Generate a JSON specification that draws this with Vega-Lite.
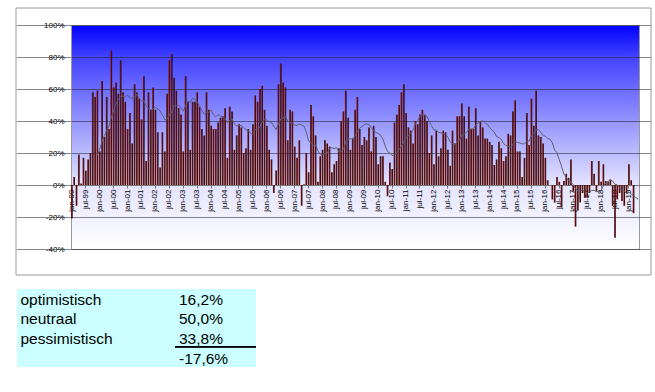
{
  "$schema": "https://vega.github.io/schema/vega-lite/v6.json",
  "background": "white",
  "padding": {"left": 15, "top": 7, "right": 3, "bottom": 3},
  "spacing": 13,
  "datasets": {
    "maand": [
      {"m":"jan-99","v":-21},{"m":"feb-99","v":5},{"m":"mrt-99","v":-13},{"m":"apr-99","v":19},{"m":"mei-99","v":1},{"m":"jun-99","v":17},{"m":"jul-99","v":9},{"m":"aug-99","v":16},{"m":"sep-99","v":20},{"m":"okt-99","v":58},{"m":"nov-99","v":55},{"m":"dec-99","v":59},
      {"m":"jan-00","v":21},{"m":"feb-00","v":65},{"m":"mrt-00","v":30},{"m":"apr-00","v":55},{"m":"mei-00","v":35},{"m":"jun-00","v":84},{"m":"jul-00","v":61},{"m":"aug-00","v":64},{"m":"sep-00","v":57},{"m":"okt-00","v":78},{"m":"nov-00","v":58},{"m":"dec-00","v":52},
      {"m":"jan-01","v":35},{"m":"feb-01","v":45},{"m":"mrt-01","v":26},{"m":"apr-01","v":63},{"m":"mei-01","v":58},{"m":"jun-01","v":54},{"m":"jul-01","v":41},{"m":"aug-01","v":68},{"m":"sep-01","v":15},{"m":"okt-01","v":58},{"m":"nov-01","v":47},{"m":"dec-01","v":61},
      {"m":"jan-02","v":47},{"m":"feb-02","v":33},{"m":"mrt-02","v":11},{"m":"apr-02","v":33},{"m":"mei-02","v":21},{"m":"jun-02","v":57},{"m":"jul-02","v":78},{"m":"aug-02","v":82},{"m":"sep-02","v":67},{"m":"okt-02","v":59},{"m":"nov-02","v":48},{"m":"dec-02","v":44},
      {"m":"jan-03","v":21},{"m":"feb-03","v":68},{"m":"mrt-03","v":52},{"m":"apr-03","v":22},{"m":"mei-03","v":52},{"m":"jun-03","v":52},{"m":"jul-03","v":58},{"m":"aug-03","v":49},{"m":"sep-03","v":35},{"m":"okt-03","v":31},{"m":"nov-03","v":58},{"m":"dec-03","v":47},
      {"m":"jan-04","v":37},{"m":"feb-04","v":35},{"m":"mrt-04","v":35},{"m":"apr-04","v":39},{"m":"mei-04","v":42},{"m":"jun-04","v":43},{"m":"jul-04","v":48},{"m":"aug-04","v":17},{"m":"sep-04","v":49},{"m":"okt-04","v":46},{"m":"nov-04","v":22},{"m":"dec-04","v":31},
      {"m":"jan-05","v":38},{"m":"feb-05","v":36},{"m":"mrt-05","v":20},{"m":"apr-05","v":23},{"m":"mei-05","v":35},{"m":"jun-05","v":22},{"m":"jul-05","v":38},{"m":"aug-05","v":56},{"m":"sep-05","v":52},{"m":"okt-05","v":60},{"m":"nov-05","v":62},{"m":"dec-05","v":47},
      {"m":"jan-06","v":37},{"m":"feb-06","v":22},{"m":"mrt-06","v":16},{"m":"apr-06","v":-5},{"m":"mei-06","v":9},{"m":"jun-06","v":63},{"m":"jul-06","v":76},{"m":"aug-06","v":64},{"m":"sep-06","v":61},{"m":"okt-06","v":28},{"m":"nov-06","v":47},{"m":"dec-06","v":46},
      {"m":"jan-07","v":24},{"m":"feb-07","v":17},{"m":"mrt-07","v":28},{"m":"apr-07","v":-13},{"m":"mei-07","v":0.5},{"m":"jun-07","v":20},{"m":"jul-07","v":8},{"m":"aug-07","v":50},{"m":"sep-07","v":43},{"m":"okt-07","v":31},{"m":"nov-07","v":2},{"m":"dec-07","v":18},
      {"m":"jan-08","v":22},{"m":"feb-08","v":28},{"m":"mrt-08","v":26},{"m":"apr-08","v":24},{"m":"mei-08","v":8},{"m":"jun-08","v":13},{"m":"jul-08","v":15},{"m":"aug-08","v":23},{"m":"sep-08","v":40},{"m":"okt-08","v":46},{"m":"nov-08","v":59},{"m":"dec-08","v":42},
      {"m":"jan-09","v":22},{"m":"feb-09","v":29},{"m":"mrt-09","v":47},{"m":"apr-09","v":55},{"m":"mei-09","v":35},{"m":"jun-09","v":25},{"m":"jul-09","v":30},{"m":"aug-09","v":28},{"m":"sep-09","v":36},{"m":"okt-09","v":21},{"m":"nov-09","v":37},{"m":"dec-09","v":30},
      {"m":"jan-10","v":13},{"m":"feb-10","v":18},{"m":"mrt-10","v":18},{"m":"apr-10","v":2},{"m":"mei-10","v":-7},{"m":"jun-10","v":14},{"m":"jul-10","v":10},{"m":"aug-10","v":39},{"m":"sep-10","v":44},{"m":"okt-10","v":50},{"m":"nov-10","v":58},{"m":"dec-10","v":63},
      {"m":"jan-11","v":45},{"m":"feb-11","v":36},{"m":"mrt-11","v":34},{"m":"apr-11","v":26},{"m":"mei-11","v":40},{"m":"jun-11","v":38},{"m":"jul-11","v":44},{"m":"aug-11","v":47},{"m":"sep-11","v":44},{"m":"okt-11","v":40},{"m":"nov-11","v":20},{"m":"dec-11","v":31},
      {"m":"jan-12","v":13},{"m":"feb-12","v":34},{"m":"mrt-12","v":18},{"m":"apr-12","v":23},{"m":"mei-12","v":34},{"m":"jun-12","v":33},{"m":"jul-12","v":22},{"m":"aug-12","v":12},{"m":"sep-12","v":34},{"m":"okt-12","v":26},{"m":"nov-12","v":43},{"m":"dec-12","v":43},
      {"m":"jan-13","v":51},{"m":"feb-13","v":43},{"m":"mrt-13","v":29},{"m":"apr-13","v":49},{"m":"mei-13","v":35},{"m":"jun-13","v":35},{"m":"jul-13","v":48},{"m":"aug-13","v":31},{"m":"sep-13","v":40},{"m":"okt-13","v":36},{"m":"nov-13","v":29},{"m":"dec-13","v":29},
      {"m":"jan-14","v":27},{"m":"feb-14","v":25},{"m":"mrt-14","v":12.5},{"m":"apr-14","v":16},{"m":"mei-14","v":27},{"m":"jun-14","v":23},{"m":"jul-14","v":15},{"m":"aug-14","v":18},{"m":"sep-14","v":32},{"m":"okt-14","v":31},{"m":"nov-14","v":46},{"m":"dec-14","v":53},
      {"m":"jan-15","v":21},{"m":"feb-15","v":21},{"m":"mrt-15","v":5},{"m":"apr-15","v":17},{"m":"mei-15","v":45},{"m":"jun-15","v":25},{"m":"jul-15","v":54},{"m":"aug-15","v":37},{"m":"sep-15","v":59},{"m":"okt-15","v":31},{"m":"nov-15","v":30},{"m":"dec-15","v":26},
      {"m":"jan-16","v":17},{"m":"feb-16","v":3},{"m":"mrt-16","v":0},{"m":"apr-16","v":-9},{"m":"mei-16","v":-11},{"m":"jun-16","v":5},{"m":"jul-16","v":2},{"m":"aug-16","v":-14},{"m":"sep-16","v":2.5},{"m":"okt-16","v":7},{"m":"nov-16","v":4.5},{"m":"dec-16","v":16},
      {"m":"jan-17","v":-4},{"m":"feb-17","v":-26},{"m":"mrt-17","v":-16},{"m":"apr-17","v":-11},{"m":"mei-17","v":-5},{"m":"jun-17","v":-8},{"m":"jul-17","v":-8},{"m":"aug-17","v":-5},{"m":"sep-17","v":15},{"m":"okt-17","v":7},{"m":"nov-17","v":-4},{"m":"dec-17","v":15},
      {"m":"jan-18","v":2},{"m":"feb-18","v":13},{"m":"mrt-18","v":2.5},{"m":"apr-18","v":2},{"m":"mei-18","v":3.5},{"m":"jun-18","v":-13},{"m":"jul-18","v":-33},{"m":"aug-18","v":-9},{"m":"sep-18","v":-5},{"m":"okt-18","v":-10},{"m":"nov-18","v":-13},{"m":"dec-18","v":-5},
      {"m":"jan-19","v":13},{"m":"feb-19","v":3},{"m":"mrt-19","v":-17.6},{"m":"apr-19","v":null},{"m":"mei-19","v":null}
    ],
    "tabel": [
      {"naam":"optimistisch","p":0.162},
      {"naam":"neutraal","p":0.5},
      {"naam":"pessimistisch","p":0.338},
      {"naam":"","p":-0.176}
    ]
  },
  "vconcat": [
    {
      "width": 568,
      "height": 224,
      "view": {
        "stroke": "#999999",
        "strokeWidth": 1,
        "fill": {
          "gradient": "linear", "x1": 0, "y1": 0, "x2": 0, "y2": 1,
          "stops": [
            {"offset": 0, "color": "#0000ff"},
            {"offset": 0.14, "color": "#4242ff"},
            {"offset": 0.43, "color": "#9595ff"},
            {"offset": 0.71, "color": "#e4e4ff"},
            {"offset": 1, "color": "#ffffff"}
          ]
        }
      },
      "resolve": {"scale": {"x": "independent"}},
      "layer": [
        {
          "data": {"values": [{}]},
          "mark": {"type": "rect", "fillOpacity": 0, "stroke": "#9a9a9a", "strokeWidth": 1},
          "encoding": {
            "x": {"datum": 0, "type": "quantitative", "scale": {"domain": [0, 1], "range": [-55, 580]}, "axis": null},
            "x2": {"datum": 1},
            "y": {"datum": 110.6, "type": "quantitative", "scale": {"domain": [-40, 100]}, "title": null, "axis": {"values": [-40, -20, 0, 20, 40, 60, 80, 100], "labelExpr": "datum.value + '%'"}},
            "y2": {"datum": -56.25}
          }
        },
        {
          "data": {"name": "maand"},
          "encoding": {
            "x": {
              "field": "m", "type": "ordinal", "sort": null, "title": null,
              "scale": {"paddingInner": 0.28, "paddingOuter": 0},
              "axis": {
                "values": ["jan-99","jul-99","jan-00","jul-00","jan-01","jul-01","jan-02","jul-02","jan-03","jul-03","jan-04","jul-04","jan-05","jul-05","jan-06","jul-06","jan-07","jul-07","jan-08","jul-08","jan-09","jul-09","jan-10","jul-10","jan-11","jul-11","jan-12","jul-12","jan-13","jul-13","jan-14","jul-14","jan-15","jul-15","jan-16","jul-16","jan-17","jul-17","jan-18","jul-18","jan-19"]
              }
            }
          },
          "layer": [
            {
              "mark": {
                "type": "bar",
                "fill": {
                  "gradient": "linear", "x1": 0, "y1": 0, "x2": 1, "y2": 0,
                  "stops": [
                    {"offset": 0, "color": "#7e1616"},
                    {"offset": 0.6, "color": "#5a0a0a"},
                    {"offset": 1, "color": "#000000"}
                  ]
                }
              },
              "encoding": {
                "y": {
                  "field": "v", "type": "quantitative", "title": null,
                  "scale": {"domain": [-40, 100]},
                  "axis": {"values": [-40, -20, 0, 20, 40, 60, 80, 100], "labelExpr": "datum.value + '%'"}
                }
              }
            },
            {
              "transform": [
                {"window": [{"op": "mean", "field": "v", "as": "ma"}, {"op": "row_number", "as": "nr"}], "frame": [-11, 0]},
                {"filter": "datum.nr >= 12"}
              ],
              "mark": {"type": "line", "color": "#5e5e6e", "strokeWidth": 1},
              "encoding": {
                "y": {
                  "field": "ma", "type": "quantitative", "title": null,
                  "scale": {"domain": [-40, 100]},
                  "axis": {"values": [-40, -20, 0, 20, 40, 60, 80, 100], "labelExpr": "datum.value + '%'"}
                }
              }
            }
          ]
        }
      ]
    },
    {
      "width": 239,
      "height": 78,
      "data": {"name": "tabel"},
      "view": {"fill": null, "stroke": null},
      "encoding": {
        "y": {"field": "naam", "type": "ordinal", "sort": null, "scale": {"type": "point", "domain": ["optimistisch", "neutraal", "pessimistisch", ""], "range": [15.5, 74.6], "padding": 0}, "axis": null}
      },
      "layer": [
        {
          "data": {"values": [{}]},
          "mark": {"type": "rect", "color": "#ccffff", "opacity": 1, "xOffset": -3.5, "x2Offset": -2.25, "yOffset": -15.5, "y2Offset": 3.4},
          "encoding": {
            "x": {"datum": "naam", "type": "nominal", "scale": {"type": "point", "domain": ["naam", "tussen", "waarde", "einde"], "range": [-50.5, 187.25], "padding": 0}, "axis": null},
            "x2": {"datum": "einde"},
            "y": {"datum": "optimistisch", "type": "ordinal"},
            "y2": {"datum": ""}
          }
        },
        {
          "mark": {"type": "text", "align": "left", "baseline": "alphabetic", "fontSize": 15.5, "font": "Liberation Sans", "color": "#000000"},
          "encoding": {
            "x": {"datum": "naam", "type": "nominal"},
            "text": {"field": "naam"}
          }
        },
        {
          "mark": {"type": "text", "align": "left", "baseline": "alphabetic", "fontSize": 15.5, "font": "Liberation Sans", "color": "#000000"},
          "encoding": {
            "x": {"datum": "waarde", "type": "nominal"},
            "text": {"field": "p", "type": "quantitative", "format": ".1%"}
          }
        },
        {
          "mark": {"type": "rule", "color": "#000000", "strokeWidth": 1, "yOffset": 3, "xOffset": -4, "x2Offset": -2.25},
          "encoding": {
            "x": {"datum": "waarde", "type": "nominal"},
            "x2": {"datum": "einde"},
            "y": {"datum": "pessimistisch", "type": "ordinal"}
          }
        }
      ]
    }
  ],
  "config": {
    "font": "Liberation Sans",
    "locale": {
      "number": {"decimal": ",", "thousands": ".", "grouping": [3], "currency": ["€", ""], "minus": "-", "percent": "%"}
    },
    "axisX": {
      "labelAngle": -90, "labelFontSize": 8, "labelColor": "#000000", "labelPadding": 1,
      "ticks": true, "tickSize": 3, "tickColor": "#777777", "domainColor": "#777777",
      "offset": -64, "grid": false, "labelFont": "Liberation Sans"
    },
    "axisY": {
      "grid": true, "gridColor": "#202030", "gridOpacity": 0.55,
      "ticks": false, "tickSize": 0, "labelPadding": 7, "labelFontSize": 8, "labelColor": "#000000",
      "domainColor": "#999999", "labelFont": "Liberation Sans"
    }
  }
}
